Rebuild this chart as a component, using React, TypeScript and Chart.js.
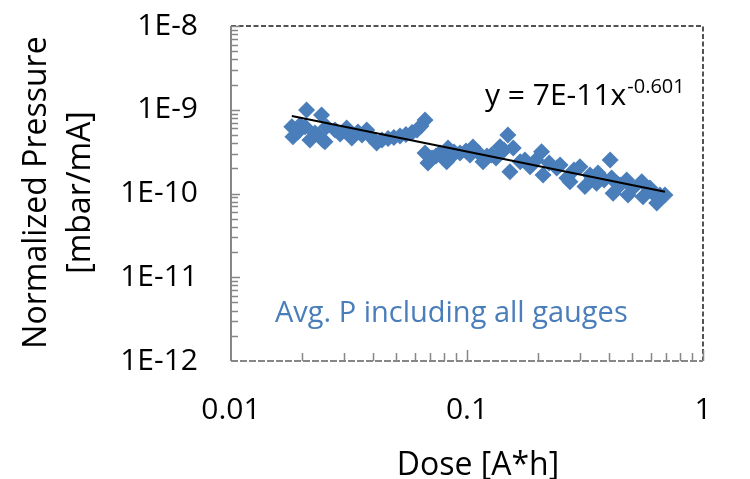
import React, { useEffect, useRef } from 'react';
import { Chart, registerables } from 'chart.js';

Chart.register(...registerables);

// ---- data ----
const doseValues = [
  0.0181, 0.0183, 0.0192, 0.0196, 0.0206, 0.0209, 0.0216, 0.0227, 0.0234, 0.0242,
  0.0245, 0.025, 0.0254, 0.0276, 0.029, 0.0309, 0.0325, 0.0345, 0.0359, 0.0376,
  0.0388, 0.0414, 0.0436, 0.0463, 0.049, 0.052, 0.0551, 0.0585, 0.0614, 0.0638,
  0.0664, 0.0664, 0.0683, 0.0711, 0.0739, 0.0768, 0.082, 0.0831, 0.0864, 0.0881,
  0.0934, 0.099, 0.103, 0.106, 0.111, 0.117, 0.1215, 0.127, 0.1327, 0.138,
  0.1435, 0.149, 0.152, 0.157, 0.168, 0.176, 0.185, 0.196, 0.207, 0.21,
  0.223, 0.24, 0.248, 0.265, 0.273, 0.284, 0.301, 0.316, 0.332, 0.339,
  0.354, 0.359, 0.381, 0.404, 0.41, 0.416, 0.431, 0.445, 0.475, 0.481,
  0.505, 0.55, 0.557, 0.596, 0.614, 0.637, 0.657, 0.69,
];
const pressureValues = [
  6.27e-10, 4.77e-10, 5.42e-10, 6.57e-10, 6.27e-10, 9.93e-10, 4.35e-10, 5.28e-10, 4.99e-10, 8.66e-10,
  4.35e-10, 4.16e-10, 6.27e-10, 5.73e-10, 5.13e-10, 6.05e-10, 4.6e-10, 5.42e-10, 4.99e-10, 5.73e-10,
  4.86e-10, 4.01e-10, 4.35e-10, 4.54e-10, 4.66e-10, 4.86e-10, 5.06e-10, 5.35e-10, 5.73e-10, 6.4e-10,
  7.54e-10, 3.05e-10, 2.31e-10, 2.65e-10, 2.8e-10, 3.05e-10, 2.4e-10, 3.49e-10, 2.8e-10, 3.13e-10,
  3.05e-10, 3.22e-10, 2.88e-10, 3.59e-10, 3.13e-10, 2.4e-10, 2.8e-10, 2.88e-10, 2.65e-10, 3.62e-10,
  3.31e-10, 4.99e-10, 1.82e-10, 3.49e-10, 2.4e-10, 2.51e-10, 2.09e-10, 2.51e-10, 3.15e-10, 1.66e-10,
  2.31e-10, 2.02e-10, 2.19e-10, 1.53e-10, 1.38e-10, 1.91e-10, 2.09e-10, 1.21e-10, 1.66e-10, 1.53e-10,
  1.33e-10, 1.76e-10, 1.45e-10, 2.51e-10, 1.53e-10, 1.01e-10, 1.33e-10, 1.26e-10, 1.45e-10, 9.6e-11,
  1.16e-10, 1.38e-10, 9.16e-11, 1.16e-10, 1.01e-10, 7.7e-11, 9.6e-11, 9.6e-11,
];
const trendDose = [0.0181, 0.69];
const trendPressure = [8.41e-10, 1.05e-10];

const xTickLabels = ['0.01', '0.1', '1'];
const yTickLabels = ['1E-12', '1E-11', '1E-10', '1E-9', '1E-8'];
const yTitleLines = ['Normalized Pressure', '[mbar/mA]'];
const xTitle = 'Dose [A*h]';
const equationMain = 'y = 7E-11x';
const equationExp = '-0.601';
const seriesLabel = 'Avg. P including all gauges';

const FONT = '"Open Sans", "Noto Sans", sans-serif';
const BLUE = '#4A7EBB';
const AXIS_GRAY = '#878787';

const isPow10 = (v: number) => {
  const l = Math.log10(v);
  return Math.abs(l - Math.round(l)) < 1e-6;
};

// every 1..9 x 10^n value inside a scale's range
const logTickValues = (scale: any) => {
  const out: number[] = [];
  const e0 = Math.floor(Math.log10(scale.min) + 1e-9);
  const e1 = Math.ceil(Math.log10(scale.max) - 1e-9);
  for (let e = e0; e <= e1; e++) {
    for (let m = 1; m <= 9; m++) {
      const v = m * Math.pow(10, e);
      if (v >= scale.min * 0.999999 && v <= scale.max * 1.000001) out.push(v);
    }
  }
  return out;
};

const decorPlugin = {
  id: 'decor',
  beforeDatasetsDraw(chart: any) {
    const { ctx, chartArea: a, scales } = chart;
    ctx.save();
    // dashed top & right border
    ctx.strokeStyle = '#1a1a1a';
    ctx.lineWidth = 1.5;
    ctx.setLineDash([5, 2.5]);
    ctx.beginPath();
    ctx.moveTo(a.left, a.top);
    ctx.lineTo(a.right, a.top);
    ctx.lineTo(a.right, a.bottom);
    ctx.stroke();
    // bottom axis (gray, lightly dashed)
    ctx.strokeStyle = AXIS_GRAY;
    ctx.lineWidth = 2;
    ctx.setLineDash([7, 2]);
    ctx.beginPath();
    ctx.moveTo(a.left, a.bottom);
    ctx.lineTo(a.right, a.bottom);
    ctx.stroke();
    // left axis
    ctx.setLineDash([]);
    ctx.beginPath();
    ctx.moveTo(a.left, a.top);
    ctx.lineTo(a.left, a.bottom);
    ctx.stroke();
    // inside tick marks
    ctx.lineWidth = 1.5;
    ctx.beginPath();
    for (const v of logTickValues(scales.x)) {
      const px = Math.round(scales.x.getPixelForValue(v)) + 0.5;
      if (px < a.left + 2 || px > a.right + 1) continue;
      const len = isPow10(v) ? 11 : 8;
      ctx.moveTo(px, a.bottom);
      ctx.lineTo(px, a.bottom - len);
    }
    for (const v of logTickValues(scales.y)) {
      const py = Math.round(scales.y.getPixelForValue(v)) + 0.5;
      if (py < a.top - 1 || py > a.bottom - 2) continue;
      const len = isPow10(v) ? 9 : 7;
      ctx.moveTo(a.left, py);
      ctx.lineTo(a.left + len, py);
    }
    ctx.stroke();
    ctx.restore();
  },
  afterDraw(chart: any) {
    const { ctx, chartArea: a } = chart;
    ctx.save();
    ctx.fillStyle = '#000';
    ctx.textBaseline = 'alphabetic';
    // y title (two rotated lines)
    ctx.font = `32px ${FONT}`;
    ctx.textAlign = 'center';
    const cy = (a.top + a.bottom) / 2 - 1;
    [46, 90].forEach((bx, i) => {
      ctx.save();
      ctx.translate(bx, cy);
      ctx.rotate(-Math.PI / 2);
      ctx.fillText(yTitleLines[i], 0, 0);
      ctx.restore();
    });
    // x title
    ctx.fillText(xTitle, 478, 475);
    // equation
    ctx.textAlign = 'left';
    ctx.font = `30px ${FONT}`;
    ctx.fillText(equationMain, 485, 105);
    const w = ctx.measureText(equationMain).width;
    ctx.font = `20px ${FONT}`;
    ctx.fillText(equationExp, 485 + w + 1, 93);
    // series annotation
    ctx.fillStyle = BLUE;
    ctx.font = `29px ${FONT}`;
    ctx.fillText(seriesLabel, 275, 322);
    ctx.restore();
  },
};

export default function App() {
  const canvasRef = useRef<HTMLCanvasElement | null>(null);

  useEffect(() => {
    if (!canvasRef.current) return;
    const chart = new Chart(canvasRef.current, {
      type: 'scatter',
      data: {
        datasets: [
          {
            type: 'line',
            label: 'trend',
            data: trendDose.map((x, i) => ({ x, y: trendPressure[i] })),
            borderColor: '#000',
            borderWidth: 2,
            pointRadius: 0,
            showLine: true,
            fill: false,
            order: 1,
          },
          {
            type: 'scatter',
            label: seriesLabel,
            data: doseValues.map((x, i) => ({ x, y: pressureValues[i] })),
            pointStyle: 'rectRot',
            pointRadius: 8.5,
            backgroundColor: BLUE,
            borderColor: BLUE,
            borderWidth: 0,
            order: 2,
          },
        ],
      },
      options: {
        animation: false,
        responsive: false,
        devicePixelRatio: 1,
        layout: { padding: { top: 26, right: 47, left: 0, bottom: 0 } },
        plugins: { legend: { display: false }, tooltip: { enabled: false } },
        scales: {
          x: {
            type: 'logarithmic',
            min: 0.01,
            max: 1,
            grid: { display: false, drawTicks: false },
            border: { display: false },
            afterFit: (s: any) => {
              s.height = 118;
              s.paddingLeft = 0;
              s.paddingRight = 0;
            },
            ticks: {
              autoSkip: false,
              maxRotation: 0,
              padding: 31,
              color: '#000',
              font: { family: FONT, size: 30 },
              callback: (v: any) => {
                const n = Number(v);
                if (!isPow10(n)) return '';
                return xTickLabels[Math.round(Math.log10(n)) + 2] ?? '';
              },
            },
          },
          y: {
            type: 'logarithmic',
            min: 1e-12,
            max: 1e-8,
            grid: { display: false, drawTicks: false },
            border: { display: false },
            afterFit: (s: any) => {
              s.width = 231;
              s.paddingTop = 0;
              s.paddingBottom = 0;
            },
            ticks: {
              autoSkip: false,
              padding: 33,
              color: '#000',
              font: { family: FONT, size: 30 },
              callback: (v: any) => {
                const n = Number(v);
                if (!isPow10(n)) return '';
                return yTickLabels[Math.round(Math.log10(n)) + 12] ?? '';
              },
            },
          },
        },
      },
      plugins: [decorPlugin],
    } as any);
    return () => chart.destroy();
  }, []);

  return (
    <div style={{ position: 'absolute', left: 0, top: 0, width: 750, height: 479, background: '#fff' }}>
      <canvas ref={canvasRef} width={750} height={479} style={{ width: 750, height: 479, display: 'block' }} />
    </div>
  );
}
